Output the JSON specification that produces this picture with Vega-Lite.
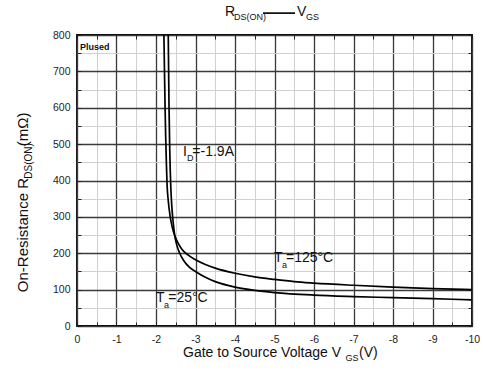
{
  "$schema": "https://vega.github.io/schema/vega-lite/v6.json",
  "width": 395,
  "height": 291,
  "autosize": "none",
  "padding": {"left": 77, "top": 35, "right": 11, "bottom": 54},
  "background": "white",
  "config": {"view": {"stroke": "#000", "strokeWidth": 1.8}, "font": "Liberation Sans"},
  "datasets": {
    "curves": [
      {"t": "125C", "v": -2.2, "r": 800}, {"t": "125C", "v": -2.215, "r": 700}, {"t": "125C", "v": -2.23, "r": 600},
      {"t": "125C", "v": -2.245, "r": 520}, {"t": "125C", "v": -2.265, "r": 440}, {"t": "125C", "v": -2.28, "r": 390},
      {"t": "125C", "v": -2.31, "r": 345}, {"t": "125C", "v": -2.36, "r": 300}, {"t": "125C", "v": -2.42, "r": 268},
      {"t": "125C", "v": -2.47, "r": 250}, {"t": "125C", "v": -2.55, "r": 230}, {"t": "125C", "v": -2.65, "r": 212},
      {"t": "125C", "v": -2.8, "r": 196}, {"t": "125C", "v": -3.0, "r": 182}, {"t": "125C", "v": -3.25, "r": 169},
      {"t": "125C", "v": -3.5, "r": 159}, {"t": "125C", "v": -4.0, "r": 145}, {"t": "125C", "v": -4.5, "r": 135},
      {"t": "125C", "v": -5.0, "r": 128}, {"t": "125C", "v": -5.5, "r": 122}, {"t": "125C", "v": -6.0, "r": 118},
      {"t": "125C", "v": -7.0, "r": 112}, {"t": "125C", "v": -8.0, "r": 107}, {"t": "125C", "v": -9.0, "r": 103},
      {"t": "125C", "v": -10.0, "r": 100},
      {"t": "25C", "v": -2.31, "r": 800}, {"t": "25C", "v": -2.32, "r": 700}, {"t": "25C", "v": -2.33, "r": 600},
      {"t": "25C", "v": -2.345, "r": 500}, {"t": "25C", "v": -2.36, "r": 430}, {"t": "25C", "v": -2.375, "r": 380},
      {"t": "25C", "v": -2.4, "r": 330}, {"t": "25C", "v": -2.43, "r": 290}, {"t": "25C", "v": -2.47, "r": 252},
      {"t": "25C", "v": -2.52, "r": 225}, {"t": "25C", "v": -2.6, "r": 200}, {"t": "25C", "v": -2.7, "r": 180},
      {"t": "25C", "v": -2.85, "r": 161}, {"t": "25C", "v": -3.0, "r": 150}, {"t": "25C", "v": -3.25, "r": 134},
      {"t": "25C", "v": -3.5, "r": 122}, {"t": "25C", "v": -4.0, "r": 107}, {"t": "25C", "v": -4.5, "r": 98},
      {"t": "25C", "v": -5.0, "r": 92}, {"t": "25C", "v": -6.0, "r": 85}, {"t": "25C", "v": -7.0, "r": 81},
      {"t": "25C", "v": -8.0, "r": 78}, {"t": "25C", "v": -9.0, "r": 75}, {"t": "25C", "v": -10.0, "r": 72}
    ],
    "bigText": [
      {"v": -2.684, "r": 477, "text": "I"},
      {"v": -2.92, "r": 477, "text": "=-1.9A"},
      {"v": -4.987, "r": 188, "text": "T"},
      {"v": -5.29, "r": 188, "text": "=125°C"},
      {"v": -2.0, "r": 77, "text": "T"},
      {"v": -2.31, "r": 77, "text": "=25°C"},
      {"v": -3.747, "r": 863, "text": "R"},
      {"v": -5.57, "r": 863, "text": "V"},
      {"v": -2.684, "r": -74, "text": "Gate to Source Voltage V"},
      {"v": -7.14, "r": -74, "text": "(V)"}
    ],
    "subText": [
      {"v": -2.785, "r": 461, "text": "D"},
      {"v": -5.19, "r": 167, "text": "a"},
      {"v": -2.2, "r": 57, "text": "a"},
      {"v": -3.975, "r": 850, "text": "DS(ON)"},
      {"v": -5.797, "r": 850, "text": "GS"},
      {"v": -6.8, "r": -89, "text": "GS"}
    ],
    "yTitleBig": [
      {"v": 1.37, "r": 93, "text": "On-Resistance R"},
      {"v": 1.37, "r": 494, "text": "(mΩ)"}
    ],
    "yTitleSub": [
      {"v": 1.225, "r": 405, "text": "DS(ON)"}
    ],
    "note": [
      {"v": -0.076, "r": 766, "text": "Plused"}
    ],
    "dash": [
      {"v": -4.709, "v2": -5.519, "r": 860}
    ]
  },
  "layer": [
    {
      "data": {"name": "curves"},
      "mark": {"type": "line", "clip": true, "interpolate": "monotone", "color": "#000", "strokeWidth": 1.7},
      "encoding": {
        "x": {
          "field": "v", "type": "quantitative",
          "scale": {"domain": [0, -10], "nice": false, "zero": false},
          "axis": {
            "orient": "bottom",
            "values": [0, -0.5, -1, -1.5, -2, -2.5, -3, -3.5, -4, -4.5, -5, -5.5, -6, -6.5, -7, -7.5, -8, -8.5, -9, -9.5, -10],
            "labelExpr": "datum.value % 1 === 0 ? '' + datum.value : ''",
            "title": null,
            "grid": true,
            "gridColor": {"condition": {"test": "datum.value % 1 === 0", "value": "#3a3a3a"}, "value": "#d0d0d0"},
            "gridWidth": {"condition": {"test": "datum.value % 1 === 0", "value": 1.3}, "value": 1},
            "domain": false,
            "ticks": true, "tickSize": -4, "tickColor": "#222",
            "labelFont": "Liberation Sans", "labelFontSize": 10.5, "labelColor": "#222",
            "labelPadding": 12, "labelFlush": false, "labelOverlap": false
          }
        },
        "y": {
          "field": "r", "type": "quantitative",
          "scale": {"domain": [0, 800], "nice": false},
          "axis": {
            "orient": "left",
            "values": [0, 50, 100, 150, 200, 250, 300, 350, 400, 450, 500, 550, 600, 650, 700, 750, 800],
            "labelExpr": "datum.value % 100 === 0 ? '' + datum.value : ''",
            "title": null,
            "grid": true,
            "gridColor": {"condition": {"test": "datum.value % 100 === 0", "value": "#3a3a3a"}, "value": "#d0d0d0"},
            "gridWidth": {"condition": {"test": "datum.value % 100 === 0", "value": 1.3}, "value": 1},
            "domain": false,
            "ticks": true, "tickSize": -4, "tickColor": "#222",
            "labelFont": "Liberation Sans", "labelFontSize": 10.5, "labelColor": "#222",
            "labelPadding": 11, "labelFlush": false, "labelOverlap": false
          }
        },
        "detail": {"field": "t"},
        "order": {"field": "v", "sort": "descending"}
      }
    },
    {
      "data": {"name": "note"},
      "mark": {"type": "text", "align": "left", "baseline": "middle", "fontSize": 9, "fontWeight": "bold", "color": "#111", "font": "Liberation Sans"},
      "encoding": {
        "x": {
          "field": "v", "type": "quantitative",
          "axis": {
            "orient": "top", "values": [0, -0.5, -1, -1.5, -2, -2.5, -3, -3.5, -4, -4.5, -5, -5.5, -6, -6.5, -7, -7.5, -8, -8.5, -9, -9.5, -10],
            "labels": false, "grid": false, "domain": false, "tickSize": -4, "tickColor": "#222", "title": null
          }
        },
        "y": {
          "field": "r", "type": "quantitative",
          "axis": {
            "orient": "right", "values": [0, 50, 100, 150, 200, 250, 300, 350, 400, 450, 500, 550, 600, 650, 700, 750, 800],
            "labels": false, "grid": false, "domain": false, "tickSize": -4, "tickColor": "#222", "title": null
          }
        },
        "text": {"field": "text"}
      }
    },
    {
      "data": {"name": "bigText"},
      "mark": {"type": "text", "align": "left", "baseline": "middle", "fontSize": 14, "color": "#111", "font": "Liberation Sans"},
      "encoding": {
        "x": {"field": "v", "type": "quantitative", "axis": null},
        "y": {"field": "r", "type": "quantitative", "axis": null},
        "text": {"field": "text"}
      }
    },
    {
      "data": {"name": "subText"},
      "mark": {"type": "text", "align": "left", "baseline": "middle", "fontSize": 9, "color": "#111", "font": "Liberation Sans"},
      "encoding": {
        "x": {"field": "v", "type": "quantitative", "axis": null},
        "y": {"field": "r", "type": "quantitative", "axis": null},
        "text": {"field": "text"}
      }
    },
    {
      "data": {"name": "yTitleBig"},
      "mark": {"type": "text", "align": "left", "baseline": "middle", "angle": 270, "fontSize": 15, "color": "#111", "font": "Liberation Sans"},
      "encoding": {
        "x": {"field": "v", "type": "quantitative", "axis": null},
        "y": {"field": "r", "type": "quantitative", "axis": null},
        "text": {"field": "text"}
      }
    },
    {
      "data": {"name": "yTitleSub"},
      "mark": {"type": "text", "align": "left", "baseline": "middle", "angle": 270, "fontSize": 10, "color": "#111", "font": "Liberation Sans"},
      "encoding": {
        "x": {"field": "v", "type": "quantitative", "axis": null},
        "y": {"field": "r", "type": "quantitative", "axis": null},
        "text": {"field": "text"}
      }
    },
    {
      "data": {"name": "dash"},
      "mark": {"type": "rule", "color": "#111", "strokeWidth": 1.6},
      "encoding": {
        "x": {"field": "v", "type": "quantitative", "axis": null},
        "x2": {"field": "v2"},
        "y": {"field": "r", "type": "quantitative", "axis": null}
      }
    }
  ]
}
